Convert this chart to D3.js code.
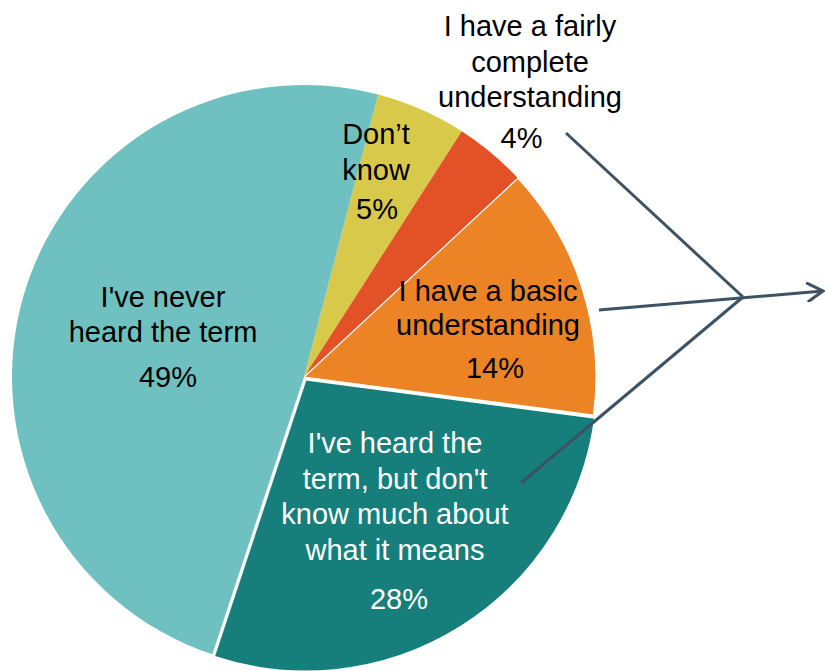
<!DOCTYPE html>
<html>
<head>
<meta charset="utf-8">
<script src="https://cdn.jsdelivr.net/npm/d3@7"></script>
<style>
  html, body { margin: 0; padding: 0; background: #ffffff; }
  svg { display: block; }
  text { font-family: "Liberation Sans", Arial, sans-serif; }
</style>
</head>
<body>
<svg id="chart" width="825" height="671"></svg>
<script>
// Survey answers, clockwise from the "Don't know" wedge
const categories = [
  ["Don\u2019t", "know"],
  ["I have a fairly", "complete", "understanding"],
  ["I have a basic", "understanding"],
  ["I've heard the", "term, but don't", "know much about", "what it means"],
  ["I've never", "heard the term"]
];
const shares = [5, 4, 14, 28, 49];
const percentLabels = ["5%", "4%", "14%", "28%", "49%"];
const colors = ["#d8c94a", "#e35227", "#ec8425", "#167f7c", "#6fc0c0"];
const textColors = ["#000", "#000", "#000", "#fff", "#000"];

// Layout of the drawing
const W = 825, H = 671;
const cx = 304, cy = 377, R = 292;
const startDeg = 14.7;
const fontSize = 29;
const explodeIndex = 3;   // the pulled-out wedge
const explodeDist = 3;

// label blocks: centre x, first baseline, line step, gap before the percentage,
// and a sideways nudge for the percentage line
const labelLayout = [
  { x: 376, y: 144, step: 36, pctGap: 39, pctDx: 1 },
  { x: 530, y: 36, step: 35.5, pctGap: 41, pctDx: -8.5 },
  { x: 488, y: 301, step: 34, pctGap: 43, pctDx: 7 },
  { x: 395, y: 453, step: 35.5, pctGap: 49, pctDx: 4 },
  { x: 163, y: 307, step: 35, pctGap: 45, pctDx: 5 }
];

// callout lines gathering three answers into one arrow
const calloutJoin = [743, 297];
const calloutFrom = [[566, 133], [521, 483]];
const arrowLine = [[599, 310], [823, 291]];

const svg = d3.select("#chart");

const pie = d3.pie()
  .sort(null)
  .value(d => d)
  .startAngle(startDeg * Math.PI / 180)
  .endAngle(startDeg * Math.PI / 180 + 2 * Math.PI);

const arc = d3.arc().innerRadius(0).outerRadius(R);
const arcs = pie(shares);

const g = svg.append("g").attr("transform", `translate(${cx},${cy})`);

g.selectAll("path.slice")
  .data(arcs)
  .join("path")
  .attr("class", "slice")
  .attr("d", arc)
  .attr("fill", (d, i) => colors[i])
  .attr("stroke", (d, i) => (i === 2 || i === explodeIndex) ? "#ffffff" : "none")
  .attr("stroke-width", (d, i) => i === explodeIndex ? 2 : 1.2)
  .attr("stroke-linejoin", "round")
  .attr("transform", (d, i) => {
    if (i !== explodeIndex) return null;
    const mid = (d.startAngle + d.endAngle) / 2;
    return `translate(${Math.sin(mid) * explodeDist},${-Math.cos(mid) * explodeDist})`;
  });

// raise the pulled-out wedge so its white edge sits on top
g.selectAll("path.slice").filter((d, i) => i === explodeIndex).raise();

// category labels with their percentages
const labels = svg.append("g");
categories.forEach((lines, i) => {
  const L = labelLayout[i];
  const t = labels.append("text")
    .attr("text-anchor", "middle")
    .attr("font-size", fontSize)
    .attr("fill", textColors[i]);
  lines.forEach((line, k) => {
    t.append("tspan").attr("x", L.x).attr("y", L.y + k * L.step).text(line);
  });
  labels.append("text")
    .attr("text-anchor", "middle")
    .attr("font-size", fontSize)
    .attr("fill", textColors[i])
    .attr("x", L.x + L.pctDx)
    .attr("y", L.y + (lines.length - 1) * L.step + L.pctGap)
    .text(percentLabels[i]);
});

// callout arrow
const lineColor = "#3d5263";
svg.append("defs").append("marker")
  .attr("id", "chevron")
  .attr("viewBox", "0 0 20 20")
  .attr("refX", 17).attr("refY", 10)
  .attr("markerWidth", 20).attr("markerHeight", 20)
  .attr("markerUnits", "userSpaceOnUse")
  .attr("orient", "auto")
  .append("path")
  .attr("d", "M2,1 L17,10 L2,19")
  .attr("fill", "none")
  .attr("stroke", lineColor)
  .attr("stroke-width", 3)
  .attr("stroke-linecap", "round")
  .attr("stroke-linejoin", "miter");

const callouts = svg.append("g")
  .attr("stroke", lineColor)
  .attr("stroke-width", 3)
  .attr("fill", "none");

calloutFrom.forEach(p => {
  callouts.append("line")
    .attr("x1", p[0]).attr("y1", p[1])
    .attr("x2", calloutJoin[0]).attr("y2", calloutJoin[1]);
});

callouts.append("line")
  .attr("x1", arrowLine[0][0]).attr("y1", arrowLine[0][1])
  .attr("x2", arrowLine[1][0]).attr("y2", arrowLine[1][1])
  .attr("marker-end", "url(#chevron)");
</script>
</body>
</html>
